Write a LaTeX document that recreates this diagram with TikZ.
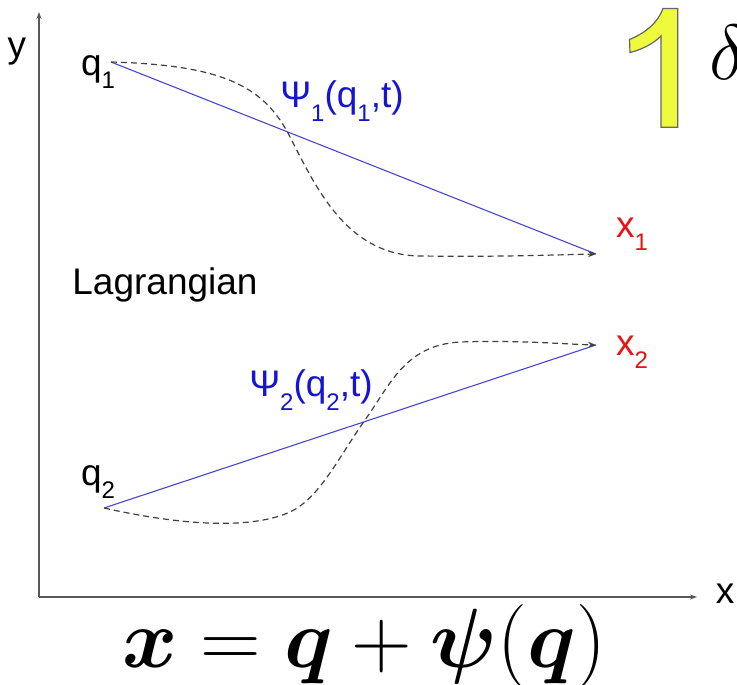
\documentclass[tikz,border=0pt]{standalone}
\usepackage{fix-cm}
\usepackage{amsmath,bm}
\usepackage{fontspec}
\newfontfamily\arial{Liberation Sans}
\usetikzlibrary{arrows.meta}
\definecolor{psiblue}{RGB}{20,20,210}
\definecolor{lineblue}{RGB}{70,70,215}
\definecolor{xred}{RGB}{230,20,20}
\definecolor{oneyellow}{RGB}{238,250,60}
\newcommand\sbs[1]{\raisebox{-0.36em}{\fontsize{24}{24}\selectfont #1}}
\begin{document}
\begin{tikzpicture}[x=1pt,y=-1pt,
  lbl/.style={font=\arial\fontsize{37}{37}\selectfont, inner sep=0pt},
  axis/.style={draw=black!65, line width=1.3pt, -{Stealth[length=7pt,width=5pt]}},
  bline/.style={draw=lineblue, line width=1.1pt},
  path/.style={draw=black!75, line width=1.2pt, dash pattern=on 6pt off 4pt, -{Stealth[length=8pt,width=6pt]}}]
\useasboundingbox (0,0) rectangle (737,685);
% axes
\coordinate (O) at (39,597);
\coordinate (ytip) at (39,12);
\coordinate (xtip) at (697,597);
\draw[axis] (O) -- (ytip);
\draw[axis] (O) -- (xtip);
\node[lbl] (ylab) at (17,52) {y};
\node[lbl] (xlab) at (725,594) {x};
% points
\coordinate (q1) at (111,62);
\coordinate (x1) at (596,254);
\coordinate (q2) at (104,508);
\coordinate (x2) at (596,345);
\draw[bline] (q1) -- (x1);
\draw[bline] (q2) -- (x2);
\draw[path] (q1) .. controls (220,65) and (262,85) .. (288,133)
  .. controls (315,185) and (345,255) .. (420,256)
  .. controls (500,257) and (550,255) .. (x1);
\draw[path] (q2) .. controls (180,525) and (250,530) .. (290,512)
  .. controls (320,498) and (340,455) .. (365,420)
  .. controls (390,385) and (405,345) .. (460,342)
  .. controls (520,340) and (560,344) .. (x2);
% labels
\node[lbl] (q1lab) at (98,72) {q\sbs{1}};
\node[lbl] (q2lab) at (98,482) {q\sbs{2}};
\node[lbl, text=xred] (x1lab) at (632,234) {x\sbs{1}};
\node[lbl, text=xred] (x2lab) at (632,352) {x\sbs{2}};
\node[lbl, text=psiblue] (psi1) at (342,101) {Ψ\sbs{1}(q\sbs{1},t)};
\node[lbl, text=psiblue] (psi2) at (311,390) {Ψ\sbs{2}(q\sbs{2},t)};
\node[lbl] (lag) at (165,285) {Lagrangian};
% big one
\draw[fill=oneyellow, draw=black!60, line width=1.2pt]
  (663,8.5) -- (677.7,8.5) -- (677.7,127.3) -- (661,127.3) -- (661,36)
  .. controls (652,45) and (640,50) .. (630,52.5) -- (629.5,39.5)
  .. controls (645,33) and (657,24) .. cycle;
\node[anchor=base west, inner sep=0pt, font=\fontsize{78}{78}\selectfont] (delta) at (709,80) {$\delta$};
% equation
\node[anchor=base, inner sep=0pt, font=\fontsize{84}{84}\selectfont] (eq) at (364,667)
  {$\bm{x}=\bm{q}+\bm{\psi}(\bm{q})$};
\end{tikzpicture}
\end{document}
